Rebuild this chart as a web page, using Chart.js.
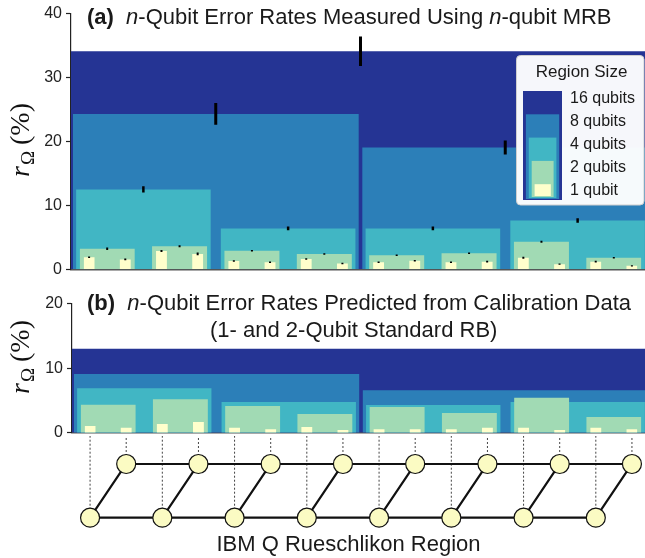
<!DOCTYPE html>
<html>
<head>
<meta charset="utf-8">
<script src="https://cdn.jsdelivr.net/npm/chart.js@4.4.0/dist/chart.umd.min.js"></script>
<style>
  html, body { margin: 0; padding: 0; background: #fff; overflow: hidden; }
  #wrap { position: relative; width: 645px; height: 558px; overflow: hidden; }
  canvas { position: absolute; left: 0; display: block; }
  #chartA { top: 0; }
  #chartB { top: 285px; }
  #chartC { top: 433px; }
</style>
</head>
<body>
<div id="wrap">
  <canvas id="chartA" width="650" height="285"></canvas>
  <canvas id="chartB" width="650" height="165"></canvas>
  <canvas id="chartC" width="650" height="125"></canvas>
</div>
<script>
const SANS = "'Liberation Sans', Arial, Helvetica, sans-serif";
const SERIF = "'Liberation Serif', 'Times New Roman', serif";

// region sizes and colours (YlGnBu)
const regionSizes = [16, 8, 4, 2, 1];
const legendLabels = ['16 qubits', '8 qubits', '4 qubits', '2 qubits', '1 qubit'];
const colors = ['#253494', '#2c7fb8', '#41b6c4', '#a1dab4', '#ffffcc'];

// (a) measured with n-qubit MRB, in %
const meas16 = [34.1];
const meas8 = [24.3, 19.05];
const meas4 = [12.5, 6.4, 6.4, 7.65];
const meas2 = [3.2, 3.6, 2.9, 2.4, 2.2, 2.5, 4.3, 1.8];
const meas1 = [1.9, 1.55, 2.85, 2.4, 1.3, 1.1, 1.6, 0.9, 1.1, 1.35, 1.1, 1.2, 1.8, 0.8, 1.2, 0.55];
const err16 = [2.3];
const err8 = [1.7, 1.1];
const err4 = [0.5, 0.3, 0.3, 0.35];
const err2 = [0.2, 0.15, 0.12, 0.12, 0.12, 0.12, 0.15, 0.12];
const err1 = [0.12, 0.12, 0.15, 0.22, 0.12, 0.12, 0.12, 0.12, 0.12, 0.12, 0.12, 0.12, 0.15, 0.1, 0.12, 0.1];

// (b) predicted from calibration data, in %
const pred16 = [13.0];
const pred8 = [9.1, 6.6];
const pred4 = [6.9, 4.75, 4.3, 4.75];
const pred2 = [4.35, 5.2, 4.15, 2.9, 4.0, 3.05, 5.4, 2.45];
const pred1 = [1.05, 0.75, 1.35, 1.65, 0.75, 0.55, 0.9, 0.4, 0.55, 0.55, 0.55, 0.75, 0.75, 0.4, 0.75, 0.55];

const yTicksA = [0, 10, 20, 30, 40];
const yTicksB = [0, 10, 20];

// lattice of the 16 qubits
const bottomRow = [0, 2, 4, 6, 8, 10, 12, 14];
const topRow = [1, 3, 5, 7, 9, 11, 13, 15];
const rungs = [[0, 1], [2, 3], [4, 5], [6, 7], [8, 9], [10, 11], [12, 13], [14, 15]];
const xLabel = 'IBM Q Rueschlikon Region';

// how far each bar is pulled in from its region edges (in qubit slots)
const barInset = { 16: 0, 8: 0.05, 4: 0.14, 2: 0.24, 1: 0.35 };

function barOutline(vals, size) {
  const ins = barInset[size];
  const pts = [];
  vals.forEach((v, j) => {
    const x0 = j * size + ins, x1 = (j + 1) * size - ins;
    pts.push({x: x0, y: 0}, {x: x0, y: v}, {x: x1, y: v}, {x: x1, y: 0});
  });
  return pts;
}

function errorData(vals, errs, size) {
  const pts = [];
  vals.forEach((v, j) => {
    const c = (j + 0.5) * size;
    pts.push({x: c, y: v - errs[j]}, {x: c, y: v + errs[j]}, {x: c, y: null});
  });
  return pts;
}

function levelSets(levels) {
  return levels.map((vals, k) => ({
    data: barOutline(vals, regionSizes[k]),
    backgroundColor: colors[k],
    borderColor: 'rgba(0,0,0,0)',
    borderWidth: 0,
    fill: 'origin',
    pointRadius: 0,
    order: 5 - k + 1
  }));
}

function drawParts(ctx, parts, x, y, size, align) {
  const fontOf = p => `${p.style || 'normal'} ${p.weight || 'normal'} ${size}px ${SANS}`;
  const widths = parts.map(p => { ctx.font = fontOf(p); return ctx.measureText(p.text).width; });
  const total = widths.reduce((a, b) => a + b, 0);
  let cx = align === 'center' ? x - total / 2 : x;
  ctx.textAlign = 'left';
  ctx.textBaseline = 'alphabetic';
  ctx.fillStyle = '#1a1a1a';
  parts.forEach((p, i) => { ctx.font = fontOf(p); ctx.fillText(p.text, cx, y); cx += widths[i]; });
}

function drawRTitle(ctx, x, y) {
  ctx.save();
  ctx.translate(x, y);
  ctx.rotate(-Math.PI / 2);
  const big = 28, small = 19, gap = 6;
  ctx.font = `italic ${big}px ${SERIF}`; const wr = ctx.measureText('r').width;
  ctx.font = `${small}px ${SERIF}`; const wo = ctx.measureText('Ω').width;
  ctx.font = `${big}px ${SERIF}`; const wp = ctx.measureText('(%)').width;
  let cx = -(wr + 1 + wo + gap + wp) / 2;
  ctx.fillStyle = '#111';
  ctx.textAlign = 'left';
  ctx.textBaseline = 'alphabetic';
  ctx.font = `italic ${big}px ${SERIF}`; ctx.fillText('r', cx, 0); cx += wr + 1;
  ctx.font = `${small}px ${SERIF}`; ctx.fillText('Ω', cx, 5); cx += wo + gap;
  ctx.font = `${big}px ${SERIF}`; ctx.fillText('(%)', cx, 0);
  ctx.restore();
}

function panelOptions(ymax, ticks, left, padTop, padBottom) {
  return {
    responsive: false,
    animation: false,
    events: [],
    layout: { padding: { top: padTop, right: 0, bottom: padBottom, left: 0 } },
    plugins: { legend: { display: false }, tooltip: { enabled: false } },
    scales: {
      x: {
        type: 'linear', min: 0, max: 16,
        ticks: { display: false },
        grid: { display: false },
        border: { display: true, color: '#555', width: 1.6 },
        afterFit: s => { s.height = 0; }
      },
      y: {
        min: 0, max: ymax,
        afterBuildTicks: s => { s.ticks = ticks.map(v => ({value: v})); },
        ticks: { font: { family: SANS, size: 16 }, color: '#222', padding: 4 },
        grid: { drawOnChartArea: false, tickLength: 5, color: '#222', tickWidth: 1.2 },
        border: { display: true, color: '#222', width: 1.2 },
        afterFit: s => { s.width = left; }
      }
    }
  };
}

// ---------- panel (a) ----------
const datasetsA = levelSets([meas16, meas8, meas4, meas2, meas1]);
[[meas16, err16, 16, 3], [meas8, err8, 8, 3], [meas4, err4, 4, 2.5], [meas2, err2, 2, 2], [meas1, err1, 1, 2]]
  .forEach(([v, e, size, w]) => {
    datasetsA.push({ data: errorData(v, e, size), borderColor: '#000', borderWidth: w,
      borderCapStyle: 'butt', pointRadius: 0, fill: false, order: 0 });
  });

const panelA = {
  id: 'panelA',
  afterDraw(chart) {
    const ctx = chart.ctx;
    ctx.save();
    drawParts(ctx, [
      {text: '(a)', weight: 'bold'}, {text: '  '}, {text: 'n', style: 'italic'},
      {text: '-Qubit Error Rates Measured Using '}, {text: 'n', style: 'italic'}, {text: '-qubit MRB'}
    ], 87, 24, 22, 'left');
    drawRTitle(ctx, 29, 140);

    // legend with nested swatch
    const bx = 516.5, by = 55.5, bw = 127.5, bh = 149.5, r = 4;
    ctx.beginPath();
    ctx.moveTo(bx + r, by);
    ctx.lineTo(bx + bw - r, by); ctx.arcTo(bx + bw, by, bx + bw, by + r, r);
    ctx.lineTo(bx + bw, by + bh - r); ctx.arcTo(bx + bw, by + bh, bx + bw - r, by + bh, r);
    ctx.lineTo(bx + r, by + bh); ctx.arcTo(bx, by + bh, bx, by + bh - r, r);
    ctx.lineTo(bx, by + r); ctx.arcTo(bx, by, bx + r, by, r);
    ctx.closePath();
    ctx.fillStyle = 'rgba(255,255,255,0.96)';
    ctx.fill();
    ctx.strokeStyle = '#cfcfcf'; ctx.lineWidth = 1; ctx.stroke();

    ctx.fillStyle = '#1a1a1a';
    ctx.font = `17px ${SANS}`;
    ctx.textAlign = 'center'; ctx.textBaseline = 'middle';
    ctx.fillText('Region Size', 581.5, 72);
    regionSizes.forEach((s, k) => {
      const l = 523 + 2.9 * k, rr = 562 - 2.8 * k, t = 91 + 23.3 * k, b = 200 - k;
      ctx.fillStyle = colors[k];
      ctx.fillRect(l, t, rr - l, b - t);
    });
    ctx.fillStyle = '#1a1a1a';
    ctx.font = `16px ${SANS}`;
    ctx.textAlign = 'left';
    legendLabels.forEach((lab, k) => ctx.fillText(lab, 570, 98.5 + 22.9 * k));
    ctx.restore();
  }
};

new Chart(document.getElementById('chartA'), {
  type: 'line',
  data: { datasets: datasetsA },
  options: panelOptions(40, yTicksA, 71, 12, 15.7),
  plugins: [panelA]
});

// ---------- panel (b) ----------
const panelB = {
  id: 'panelB',
  afterDraw(chart) {
    const ctx = chart.ctx;
    ctx.save();
    drawParts(ctx, [
      {text: '(b)', weight: 'bold'}, {text: '  '}, {text: 'n', style: 'italic'},
      {text: '-Qubit Error Rates Predicted from Calibration Data'}
    ], 87, 25, 22, 'left');
    drawParts(ctx, [{text: '(1- and 2-Qubit Standard RB)'}], 353.7, 52.3, 22, 'center');
    drawRTitle(ctx, 29, 72);
    ctx.restore();
  }
};

new Chart(document.getElementById('chartB'), {
  type: 'line',
  data: { datasets: levelSets([pred16, pred8, pred4, pred2, pred1]) },
  options: panelOptions(20, yTicksB, 72, 18.7, 17.3),
  plugins: [panelB]
});

// ---------- lattice ----------
const rowOf = q => topRow.includes(q) ? 1 : 0;
const allQubits = bottomRow.concat(topRow).sort((a, b) => a - b);

const dashData = [];
allQubits.forEach(q => dashData.push({x: q + 0.5, y: rowOf(q)}, {x: q + 0.5, y: 2}, {x: q + 0.5, y: null}));

const edgeData = [];
[topRow, bottomRow].forEach(row => {
  row.forEach(q => edgeData.push({x: q + 0.5, y: rowOf(q)}));
  edgeData.push({x: row[row.length - 1] + 0.5, y: null});
});
rungs.forEach(([a, b]) => edgeData.push({x: a + 0.5, y: rowOf(a)}, {x: b + 0.5, y: rowOf(b)}, {x: b + 0.5, y: null}));

const latticeLabel = {
  id: 'latticeLabel',
  afterDraw(chart) {
    const ctx = chart.ctx;
    ctx.save();
    ctx.fillStyle = '#1a1a1a';
    ctx.font = `22px ${SANS}`;
    ctx.textAlign = 'center'; ctx.textBaseline = 'middle';
    ctx.fillText(xLabel, 348.5, 112);
    ctx.restore();
  }
};

new Chart(document.getElementById('chartC'), {
  type: 'line',
  data: {
    datasets: [
      { data: dashData, borderColor: '#444', borderWidth: 1, borderDash: [2, 2], pointRadius: 0, fill: false, order: 3 },
      { data: edgeData, borderColor: '#111', borderWidth: 2.2, pointRadius: 0, fill: false, clip: false, order: 2 },
      { data: allQubits.map(q => ({x: q + 0.5, y: rowOf(q)})), showLine: false, clip: false,
        pointRadius: 9.5, pointBackgroundColor: '#fbfbc3', pointBorderColor: '#111', pointBorderWidth: 1.2, order: 1 }
    ]
  },
  options: {
    responsive: false,
    animation: false,
    events: [],
    layout: { autoPadding: false, padding: { top: 3, right: 0, bottom: 32.4, left: 72 } },
    plugins: { legend: { display: false }, tooltip: { enabled: false } },
    scales: {
      x: { type: 'linear', min: 0, max: 16, display: false },
      y: { type: 'linear', min: -0.147, max: 1.521, display: false }
    }
  },
  plugins: [latticeLabel]
});
</script>
</body>
</html>
